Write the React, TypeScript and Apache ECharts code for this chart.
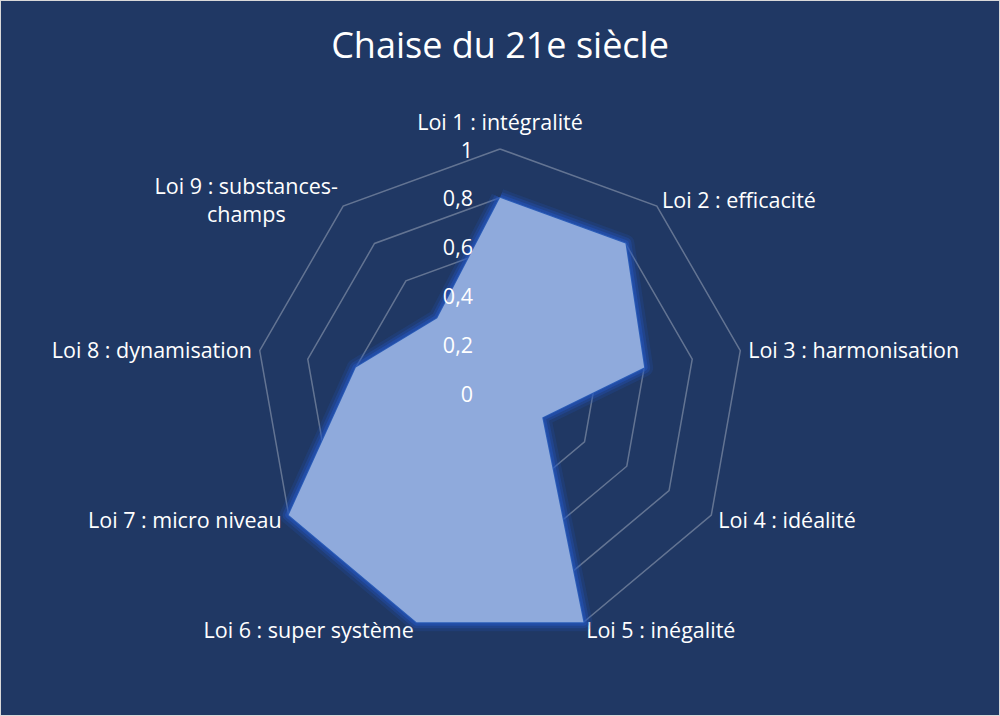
import React, { useEffect, useRef } from "react";
import * as echarts from "echarts";

const categories = [
  "Loi 1 : intégralité",
  "Loi 2 : efficacité",
  "Loi 3 : harmonisation",
  "Loi 4 : idéalité",
  "Loi 5 : inégalité",
  "Loi 6 : super système",
  "Loi 7 : micro niveau",
  "Loi 8 : dynamisation",
  "Loi 9 : substances-\nchamps",
];
const values = [0.8, 0.8, 0.6, 0.2, 1, 1, 1, 0.6, 0.4];
const axisMax = 1;
const FONT = "'Open Sans', 'Noto Sans', sans-serif";
const FS = 21.5;

// ECharts radar runs counter-clockwise; reorder so the picture reads clockwise
const order = categories.map((_, i) => (i === 0 ? 0 : categories.length - i));

export default function App() {
  const ref = useRef<HTMLDivElement>(null);
  useEffect(() => {
    document.body.style.margin = "0";
    const chart = echarts.init(ref.current!, null, { renderer: "svg" });
    const common = {
      center: [499, 392],
      radius: 244,
      startAngle: 90,
      splitNumber: 5,
      shape: "polygon",
    };
    const tok = { color: "#ffffff", fontSize: FS, fontFamily: FONT, lineHeight: 28 };
    const ordered = order.map((k) => values[k]);
    const glow = (width: number, alpha: number) => ({
      type: "radar",
      radarIndex: 0,
      symbol: "none",
      z: 1,
      silent: true,
      data: [
        {
          value: ordered,
          lineStyle: { color: `rgba(36,86,196,${alpha})`, width, join: "round" },
        },
      ],
    });
    chart.setOption({
      animation: false,
      backgroundColor: "#203864",
      title: {
        text: "Chaise du 21e siècle",
        left: "center",
        top: 20,
        textStyle: { color: "#ffffff", fontSize: 36, fontWeight: "normal", fontFamily: FONT },
      },
      radar: [
        {
          ...common,
          z: 0,
          nameGap: 8,
          axisName: {
            color: "#ffffff",
            fontSize: FS,
            fontFamily: FONT,
            lineHeight: 28,
            formatter: (name: string) => {
              if (name === categories[0]) return `{top|${name}}`;
              if (name.indexOf("\n") >= 0)
                return name
                  .split("\n")
                  .map((l) => `{c|${l}}`)
                  .join("\n");
              return `{n|${name}}`;
            },
            rich: {
              n: { ...tok },
              top: { ...tok, lineHeight: 40 },
              c: { ...tok, align: "center" },
            },
          },
          axisLine: { show: false },
          axisTick: { show: false },
          splitArea: { show: false },
          splitLine: { lineStyle: { color: "rgba(255,255,255,0.3)", width: 1.5 } },
          axisLabel: { show: false },
          indicator: order.map((k) => ({ name: categories[k], min: 0, max: axisMax })),
        },
        {
          ...common,
          z: 5,
          axisName: { show: false },
          axisLine: { show: false },
          axisTick: { show: false },
          splitArea: { show: false },
          splitLine: { show: false },
          axisLabel: { show: false },
          indicator: order.map((k, j) =>
            j === 0
              ? {
                  name: categories[k],
                  min: 0,
                  max: axisMax,
                  axisLabel: {
                    show: true,
                    color: "#ffffff",
                    fontSize: FS,
                    fontFamily: FONT,
                    margin: 27,
                    formatter: (v: number) => String(v).replace(".", ","),
                  },
                }
              : { name: categories[k], min: 0, max: axisMax }
          ),
        },
      ],
      series: [
        glow(18, 0.18),
        glow(12, 0.3),
        glow(7, 0.45),
        {
          type: "radar",
          radarIndex: 0,
          symbol: "none",
          z: 2,
          data: [
            {
              value: ordered,
              lineStyle: { color: "#2a5cb8", width: 2 },
              areaStyle: { color: "#8faadc", opacity: 1 },
            },
          ],
        },
      ],
    });
    return () => chart.dispose();
  }, []);
  return (
    <div
      style={{
        position: "absolute",
        left: 0,
        top: 0,
        width: 1000,
        height: 716,
        boxSizing: "border-box",
        border: "1px solid #d9d9d9",
      }}
    >
      <div ref={ref} style={{ width: 998, height: 714 }} />
    </div>
  );
}
